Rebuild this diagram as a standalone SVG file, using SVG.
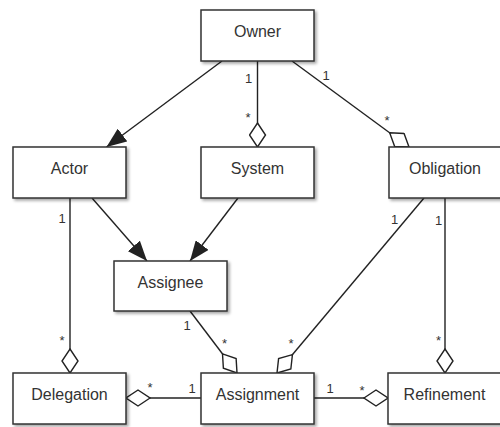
<svg xmlns="http://www.w3.org/2000/svg" width="500" height="427" viewBox="0 0 500 427">
<style>
.box{fill:#fff;stroke:#333;stroke-width:1.5;filter:url(#sh)}
.name{font-family:"Liberation Sans",Arial,sans-serif;font-size:16px;fill:#333;text-anchor:middle}
.lbl{font-family:"Liberation Sans",Arial,sans-serif;font-size:13px;fill:#333;text-anchor:middle}
.ln{fill:none;stroke:#222;stroke-width:1.4}
.agg{marker-end:url(#dia)}
.nav{marker-end:url(#arr)}
</style>
<defs>
<filter id="sh" x="-10%" y="-10%" width="130%" height="140%">
<feDropShadow dx="2" dy="2" stdDeviation="1.5" flood-color="#000" flood-opacity="0.35"/>
</filter>
<marker id="dia" markerUnits="userSpaceOnUse" viewBox="-1 -1 26 18" markerWidth="26" markerHeight="18" refX="24" refY="8" orient="auto">
<path d="M0,8 L12,0 L24,8 L12,16 Z" fill="#fff" stroke="#222" stroke-width="1.4"/>
</marker>
<marker id="arr" markerUnits="userSpaceOnUse" viewBox="0 0 20 16" markerWidth="20" markerHeight="16" refX="20" refY="8" orient="auto">
<path d="M0,0 L20,8 L0,16 Z" fill="#222"/>
</marker>
</defs>
<g id="connectors">
<path class="ln nav" d="M222,61 L106.5,147"/>
<path class="ln agg" d="M257.5,61 L257.5,147"/>
<path class="ln agg" d="M292,61 L409,147"/>
<path class="ln nav" d="M92,198 L147,261"/>
<path class="ln nav" d="M238,198 L190,261"/>
<path class="ln agg" d="M70,198 L70,373"/>
<path class="ln agg" d="M190,311 L237,373"/>
<path class="ln agg" d="M424,198 L277,373"/>
<path class="ln agg" d="M445,198 L445,373"/>
<path class="ln agg" d="M201,398 L126,398"/>
<path class="ln agg" d="M314,398 L388,398"/>
<text class="lbl" x="248.5" y="83">1</text>
<text class="lbl" x="248" y="122">*</text>
<text class="lbl" x="326" y="80">1</text>
<text class="lbl" x="387" y="125">*</text>
<text class="lbl" x="62" y="223">1</text>
<text class="lbl" x="62" y="345">*</text>
<text class="lbl" x="187" y="330">1</text>
<text class="lbl" x="224.5" y="348">*</text>
<text class="lbl" x="150" y="392">*</text>
<text class="lbl" x="192" y="393">1</text>
<text class="lbl" x="394.5" y="224">1</text>
<text class="lbl" x="291" y="348">*</text>
<text class="lbl" x="438.5" y="225">1</text>
<text class="lbl" x="438.5" y="345">*</text>
<text class="lbl" x="330" y="393">1</text>
<text class="lbl" x="362" y="395">*</text>
</g>
<g id="owner"><rect class="box" x="201" y="10" width="113" height="51"/><text class="name" x="257.5" y="36.5">Owner</text></g>
<g id="actor"><rect class="box" x="13" y="147" width="113" height="51"/><text class="name" x="69.5" y="174">Actor</text></g>
<g id="system"><rect class="box" x="201" y="147" width="113" height="51"/><text class="name" x="257.5" y="174">System</text></g>
<g id="obligation"><rect class="box" x="389" y="147" width="113" height="51"/><text class="name" x="445" y="174">Obligation</text></g>
<g id="assignee"><rect class="box" x="114" y="261" width="113" height="50"/><text class="name" x="170.5" y="287.5">Assignee</text></g>
<g id="delegation"><rect class="box" x="13" y="373" width="113" height="51"/><text class="name" x="69.5" y="400">Delegation</text></g>
<g id="assignment"><rect class="box" x="201" y="373" width="113" height="51"/><text class="name" x="257.5" y="400">Assignment</text></g>
<g id="refinement"><rect class="box" x="388" y="373" width="113" height="51"/><text class="name" x="444.5" y="400">Refinement</text></g>
</svg>
